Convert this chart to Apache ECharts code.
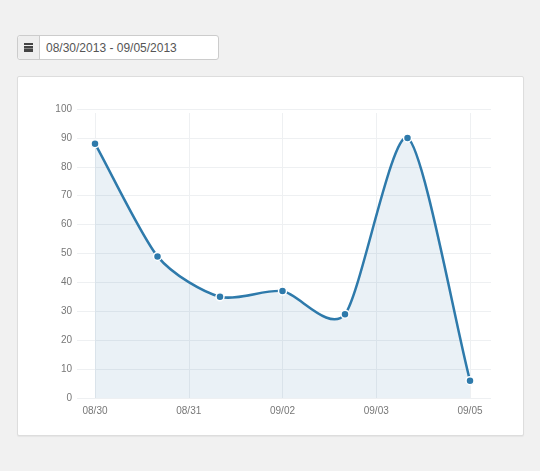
<!DOCTYPE html>
<html>
<head>
<meta charset="utf-8">
<script src="https://cdn.jsdelivr.net/npm/echarts@6/dist/echarts.min.js"></script>
<style>
  html, body { margin: 0; padding: 0; background: #f1f1f1; width: 540px; height: 471px; overflow: hidden;
    font-family: "Liberation Sans", Arial, sans-serif; }
  .range { position: absolute; left: 17px; top: 35px; width: 200px; height: 23px;
    border: 1px solid #ccc; border-radius: 3px; background: #fff; }
  .range .addon { position: absolute; left: 0; top: 0; width: 21px; height: 23px; background: #eee;
    border-right: 1px solid #ccc; border-radius: 3px 0 0 3px; }
  .range .cal { position: absolute; left: 6px; top: 7px; width: 9px; height: 9px; background: #444; }
  .range .cal:before { content: ""; position: absolute; left: 0; top: 2px; width: 9px; height: 1px; background: #eee; }
  .range .cal:after { content: ""; position: absolute; left: 0; top: 5px; width: 9px; height: 1px; background: #888; }
  .range .txt { position: absolute; left: 28px; top: 5px; font-size: 12px; color: #555; }
  .panel { position: absolute; left: 17px; top: 76px; width: 505px; height: 358px;
    background: #fff; border: 1px solid #ddd; border-radius: 2px; box-shadow: 0 1px 1px rgba(0,0,0,0.05); }
  #chart { position: absolute; left: 0; top: 0; width: 540px; height: 471px; }
</style>
</head>
<body>
<div class="range"><div class="addon"><div class="cal"></div></div><div class="txt">08/30/2013 - 09/05/2013</div></div>
<div class="panel"></div>
<div id="chart"></div>
<script>
// one point per day
var days = ['08/30', '08/31', '09/01', '09/02', '09/03', '09/04', '09/05'];
var values = [88, 49, 35, 37, 29, 90, 6];

var points = values.map(function (v, i) { return [i, v]; });

var lineColor = '#2e7aab';

var myChart = echarts.init(document.getElementById('chart'));

var labelStyle = { color: '#777', fontSize: 10, fontFamily: 'Liberation Sans, Arial, sans-serif' };
var gridLine = { show: true, lineStyle: { color: '#eef0f2', width: 1 } };

// smooth path like the original: central-difference slopes, handles at 1/4 of a step
function curvePath(api) {
    var c = points.map(function (p) { return api.coord(p); });
    var bottom = api.coord([0, 0])[1];
    var grad = function (a, b) { return (a[1] - b[1]) / (a[0] - b[0]); };
    var g = c.map(function (p, i) {
        if (i === 0) return grad(p, c[1]);
        if (i === c.length - 1) return grad(c[i - 1], p);
        return grad(c[i - 1], c[i + 1]);
    });
    var d = 'M' + c[0][0] + ',' + c[0][1];
    for (var i = 1; i < c.length; i++) {
        var ix = (c[i][0] - c[i - 1][0]) / 4;
        var x1 = c[i - 1][0] + ix, y1 = Math.min(bottom, c[i - 1][1] + ix * g[i - 1]);
        var x2 = c[i][0] - ix, y2 = Math.min(bottom, c[i][1] - ix * g[i]);
        d += 'C' + x1 + ',' + y1 + ',' + x2 + ',' + y2 + ',' + c[i][0] + ',' + c[i][1];
    }
    return { line: d, area: d + 'L' + c[c.length - 1][0] + ',' + bottom + 'L' + c[0][0] + ',' + bottom + 'Z' };
}

var option = {
    animation: false,
    grid: [
        // horizontal lines and y labels
        { left: 77, top: 109, width: 414, height: 289 },
        // vertical lines and x labels
        { left: 95, top: 113, width: 375, height: 285 },
        // data
        { left: 95, top: 109, width: 375, height: 289 }
    ],
    xAxis: [
        { gridIndex: 0, type: 'value', min: 0, max: 1, show: false },
        {
            gridIndex: 1, type: 'value', min: 0, max: 6, interval: 1.5,
            axisLine: { show: false }, axisTick: { show: false },
            axisLabel: Object.assign({ margin: 8, formatter: function (v) { return days[Math.floor(v)]; } }, labelStyle),
            splitLine: gridLine
        },
        { gridIndex: 2, type: 'value', min: 0, max: 6, show: false }
    ],
    yAxis: [
        {
            gridIndex: 0, type: 'value', min: 0, max: 100, interval: 10,
            axisLine: { show: false }, axisTick: { show: false },
            axisLabel: Object.assign({ margin: 5 }, labelStyle),
            splitLine: gridLine
        },
        { gridIndex: 1, type: 'value', min: 0, max: 100, show: false },
        { gridIndex: 2, type: 'value', min: 0, max: 100, show: false }
    ],
    series: [
        {
            type: 'custom',
            xAxisIndex: 2,
            yAxisIndex: 2,
            data: points,
            z: 2,
            renderItem: function (params, api) {
                if (params.dataIndex !== 0) return null;
                var p = curvePath(api);
                return {
                    type: 'group',
                    children: [
                        { type: 'path', shape: { pathData: p.area }, style: { fill: 'rgba(46,122,171,0.10)', stroke: null } },
                        { type: 'path', shape: { pathData: p.line }, style: { fill: null, stroke: lineColor, lineWidth: 2.5 } }
                    ]
                };
            }
        },
        {
            type: 'line',
            xAxisIndex: 2,
            yAxisIndex: 2,
            data: points,
            z: 3,
            symbol: 'circle',
            symbolSize: 8,
            lineStyle: { width: 0, opacity: 0 },
            itemStyle: { color: lineColor, borderColor: '#fff', borderWidth: 1.5 }
        }
    ]
};

myChart.setOption(option);
</script>
</body>
</html>
